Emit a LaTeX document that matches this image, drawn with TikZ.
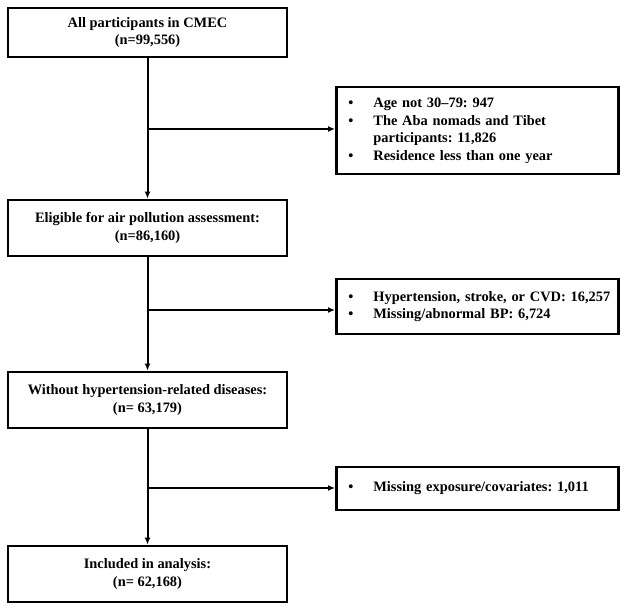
\documentclass[tikz,border=0pt]{standalone}
\usepackage{fontspec}
\setmainfont{Liberation Serif}
\usepackage{tikz}
\usetikzlibrary{arrows.meta}
\usetikzlibrary{shapes}
\frenchspacing

\begin{document}
\begin{tikzpicture}[>={Latex[length=7bp,width=6bp]},line join=miter,
  every node/.style={font=\fontsize{14.4bp}{17.5bp}\selectfont\bfseries},
  mainbox/.style={draw,line width=2.8bp,minimum width=279bp,align=center,inner sep=0bp},
  sidebox/.style={draw,line width=2.8bp,anchor=west,align=left,text width=258bp,inner xsep=12bp,inner ysep=0bp},
  link/.style={black,line width=2bp}]
\useasboundingbox (0bp,0bp) rectangle (629bp,610bp);
%%
\node (node_0) at (147.5bp,577.5bp) [mainbox,minimum height=49bp] {All participants in CMEC\\(n=99,556)};
  \node (node_1) at (335bp,479.5bp) [sidebox,minimum height=87bp]
    {\begin{tabular}{@{}p{25bp}@{}l@{}}
     \textbullet & Age not 30--79: 947\\
     \textbullet & The Aba nomads and Tibet\\
                 & participants: 11,826\\
     \textbullet & Residence less than one year
     \end{tabular}};
  \node (node_2) at (147.5bp,382bp) [mainbox,minimum height=56bp] {Eligible for air pollution assessment:\\(n=86,160)};
  \node (node_3) at (335bp,303.5bp) [sidebox,minimum height=55bp]
    {\begin{tabular}{@{}p{25bp}@{}l@{}}
     \textbullet & Hypertension, stroke, or CVD: 16,257\\
     \textbullet & Missing/abnormal BP: 6,724
     \end{tabular}};
  \node (node_4) at (147.5bp,210bp) [mainbox,minimum height=56bp] {Without hypertension-related diseases:\\(n= 63,179)};
  \node (node_5) at (335bp,121.5bp) [sidebox,minimum height=43bp]
    {\begin{tabular}{@{}p{25bp}@{}l@{}}
     \textbullet & Missing exposure/covariates: 1,011
     \end{tabular}};
  \node (node_6) at (147.5bp,36bp) [mainbox,minimum height=56bp] {Included in analysis:\\(n= 62,168)};
  \coordinate (branch_0) at (147.5bp,481bp);
  \coordinate (branch_1) at (147.5bp,300bp);
  \coordinate (branch_2) at (147.5bp,122bp);
  \draw [link,->] (node_0) -- (node_2);
  \draw [link,->] (node_2) -- (node_4);
  \draw [link,->] (node_4) -- (node_6);
  \draw [link,->] (branch_0) -- (branch_0 -| node_1.west);
  \draw [link,->] (branch_1) -- (branch_1 -| node_3.west);
  \draw [link,->] (branch_2) -- (branch_2 -| node_5.west);
%
\end{tikzpicture}
\end{document}
